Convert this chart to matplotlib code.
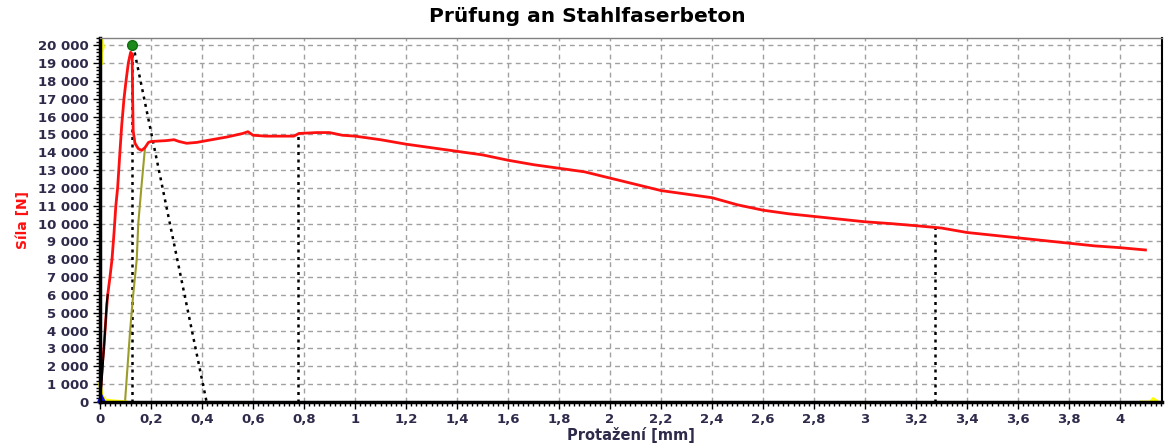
import matplotlib.pyplot as plt
import numpy as np
from matplotlib.ticker import MultipleLocator, FuncFormatter

# main force-elongation curve (red)
curve_x = [0, 0.004, 0.008, 0.015, 0.022, 0.03, 0.039, 0.047, 0.055, 0.062, 0.069,
           0.078, 0.085, 0.094, 0.102, 0.111, 0.12, 0.126, 0.128, 0.13, 0.137, 0.15,
           0.163, 0.176, 0.19, 0.2, 0.26, 0.29, 0.31, 0.34, 0.38, 0.418, 0.497, 0.56,
           0.58, 0.6, 0.65, 0.72, 0.76, 0.78, 0.85, 0.9, 0.95, 1.0, 1.1, 1.2, 1.3, 1.4,
           1.5, 1.6, 1.7, 1.8, 1.9, 2.0, 2.1, 2.2, 2.3, 2.4, 2.5, 2.6, 2.7, 2.8, 2.9,
           3.0, 3.1, 3.2, 3.3, 3.4, 3.5, 3.6, 3.7, 3.8, 3.9, 4.0, 4.1]
curve_y = [0, 1000, 2000, 3000, 4500, 6000, 7000, 8000, 9500, 11000, 12000,
           14000, 15500, 17000, 18000, 19000, 19600, 19500, 17000, 15200, 14500, 14200,
           14100, 14250, 14550, 14600, 14650, 14700, 14600, 14500, 14550, 14650, 14850, 15050,
           15150, 14950, 14900, 14900, 14900, 15050, 15100, 15100, 14950, 14900, 14700, 14450, 14250, 14050,
           13850, 13550, 13300, 13100, 12900, 12550, 12200, 11850, 11650, 11450, 11050, 10750, 10550, 10400, 10250,
           10100, 10000, 9880, 9750, 9500, 9350, 9200, 9050, 8900, 8750, 8650, 8520]

# early loading segment (black)
pre_x = [0.0, 0.01, 0.013, 0.02, 0.026, 0.03]
pre_y = [0, 1800, 2500, 4000, 5500, 6000]

# shifted modulus line (olive)
olive_x = [0.098, 0.108, 0.118, 0.13, 0.144, 0.15, 0.162, 0.176]
olive_y = [0, 2000, 4000, 6000, 8000, 10000, 12000, 14200]

# small yellow markers
yel_low_x = [0.0, 0.004, 0.01, 0.02, 0.05, 0.098]
yel_low_y = [1000, 600, 300, 100, 50, 0]
yel_top_x = [0.006, 0.006, 0.012, 0.006]
yel_top_y = [19000, 20300, 19900, 19600]
yel_end_x = [4.08, 4.12, 4.13, 4.15]
yel_end_y = [0, 0, 200, 0]

# evaluation lines (dotted black)
peak_x, peak_y = 0.124, 20000
unload_x = [0.13, 0.418]
unload_y = [20000, 0]
mark_x = [0.124, 0.775, 3.275]
mark_top = [19600, 15000, 9800]

fig = plt.figure(figsize=(11.74, 4.44), dpi=100)
ax = fig.add_axes([0.0852, 0.0946, 0.9046, 0.8198])

ax.set_xlim(0, 4.165)
ax.set_ylim(0, 20400)

ax.grid(True, color='#a0a0a0', linestyle=(0, (3.5, 3)), linewidth=1)
ax.set_axisbelow(True)

dot = (0, (1.2, 1.8))
for mx, mt in zip(mark_x, mark_top):
    ax.plot([mx, mx], [0, mt], color='black', linestyle=dot, lw=1.8)
ax.plot(unload_x, unload_y, color='black', linestyle=dot, lw=1.8)

ax.plot(olive_x, olive_y, color='#9c9c2a', lw=1.5)
ax.plot(curve_x, curve_y, color='#ff1010', lw=2.0)
ax.plot(pre_x, pre_y, color='black', lw=1.4)
ax.plot(yel_low_x, yel_low_y, color='#ffff00', lw=2.5, clip_on=False)
ax.plot(yel_top_x, yel_top_y, color='#ffff00', lw=2.5, clip_on=False)
ax.plot(yel_end_x, yel_end_y, color='#ffff00', lw=2.0, clip_on=False)
ax.plot([0.004], [250], marker='^', color='#1010ff', markersize=6, clip_on=False)
ax.plot([peak_x], [peak_y], marker='o', color='#1a8a1a', markersize=7,
        markeredgecolor='#0f6f0f', clip_on=False)

ax.xaxis.set_major_locator(MultipleLocator(0.2))
ax.xaxis.set_minor_locator(MultipleLocator(0.02))
ax.yaxis.set_major_locator(MultipleLocator(1000))
ax.yaxis.set_minor_locator(MultipleLocator(200))


def fmt_x(v, pos):
    s = ('%.1f' % v).rstrip('0').rstrip('.')
    return s.replace('.', ',')


def fmt_y(v, pos):
    return '{:,}'.format(int(round(v))).replace(',', ' ')


ax.xaxis.set_major_formatter(FuncFormatter(fmt_x))
ax.yaxis.set_major_formatter(FuncFormatter(fmt_y))

lab_color = '#2e2a4a'
ax.tick_params(axis='both', which='major', length=5, width=1, color='black',
               labelsize=9.5, labelcolor=lab_color, pad=3)
ax.tick_params(axis='both', which='minor', length=3, width=1, color='black')
for lab in ax.get_xticklabels() + ax.get_yticklabels():
    lab.set_fontweight('bold')

ax.spines['left'].set_linewidth(2.5)
ax.spines['bottom'].set_linewidth(2.5)
ax.spines['right'].set_linewidth(1.5)
ax.spines['top'].set_color('#808080')
ax.spines['top'].set_linewidth(1)

fig.suptitle('Prüfung an Stahlfaserbeton', x=0.5, y=0.985, fontsize=14.5,
             fontweight='bold', color='black')
ax.set_xlabel('Protažení [mm]', fontsize=10.5, fontweight='bold', color=lab_color, labelpad=1)
ax.set_ylabel('Síla [N]', fontsize=10, fontweight='bold', color='#ff1010', labelpad=6)

fig.savefig('out.png', dpi=100)
plt.close(fig)
